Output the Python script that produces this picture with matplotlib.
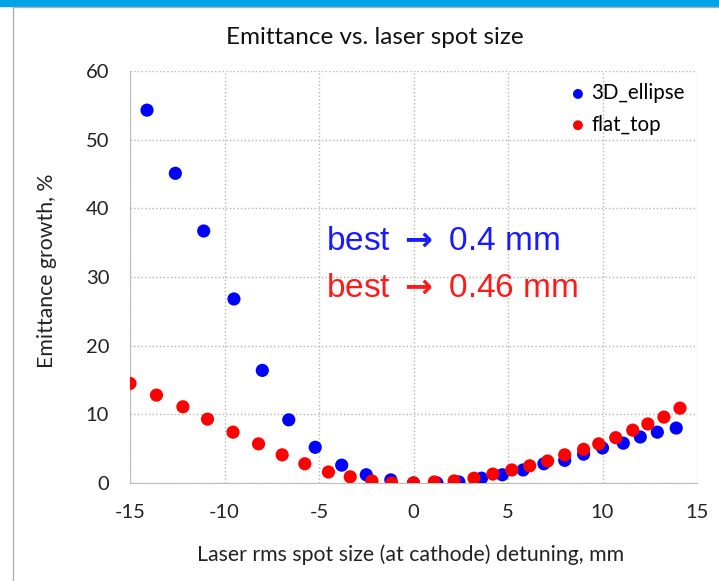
import matplotlib.pyplot as plt
from matplotlib.patches import Rectangle
from matplotlib.lines import Line2D

# emittance growth vs laser spot size detuning
ell_x = [-14.1, -12.6, -11.1, -9.5, -8.0, -6.6, -5.2, -3.8, -2.5, -1.2, 0.0,
         1.24, 2.4, 3.6, 4.7, 5.8, 6.9, 8.0, 9.0, 10.0, 11.1, 12.0, 12.9, 13.9]
ell_y = [54.3, 45.1, 36.7, 26.8, 16.4, 9.2, 5.2, 2.6, 1.2, 0.45, 0.0,
         0.0, 0.15, 0.7, 1.2, 1.9, 2.8, 3.3, 4.2, 5.1, 5.8, 6.7, 7.4, 8.0]
flat_x = [-15.0, -13.6, -12.2, -10.9, -9.55, -8.2, -6.95, -5.75, -4.5, -3.35, -2.2, -1.15, 0.0,
          1.1, 2.15, 3.2, 4.2, 5.2, 6.15, 7.1, 8.0, 9.0, 9.8, 10.7, 11.6, 12.4, 13.25, 14.1]
flat_y = [14.5, 12.8, 11.1, 9.3, 7.4, 5.7, 4.1, 2.8, 1.6, 0.9, 0.3, 0.0, 0.0,
          0.15, 0.3, 0.7, 1.3, 1.9, 2.5, 3.2, 4.1, 4.9, 5.7, 6.6, 7.7, 8.6, 9.6, 10.9]
xticks = [-15, -10, -5, 0, 5, 10, 15]
yticks = [0, 10, 20, 30, 40, 50, 60]

plt.rcParams['font.family'] = ['Lato', 'DejaVu Sans']
plt.rcParams['axes.unicode_minus'] = False
plt.rcParams['mathtext.fontset'] = 'dejavusans'

fig = plt.figure(figsize=(7.19, 5.81), dpi=100)
# slide frame
fig.patches.append(Rectangle((0, 1 - 6/581), 1, 6/581, transform=fig.transFigure,
                             color='#00a3e8', zorder=0))
fig.add_artist(Line2D([13/719, 13/719], [0, 1 - 7/581], transform=fig.transFigure,
                      color='#b0b0b0', lw=1))
fig.add_artist(Line2D([13/719, 1], [1 - 7/581, 1 - 7/581], transform=fig.transFigure,
                      color='#b0b0b0', lw=1))

ax = fig.add_axes([130/719, 1 - 483/581, 567/719, 412/581])
ax.scatter(ell_x, ell_y, s=90, color='#0000ff', edgecolors='none', zorder=3, label='3D_ellipse')
ax.scatter(flat_x, flat_y, s=90, color='#ff0000', edgecolors='none', zorder=4, label='flat_top')

ax.set_xlim(-15, 15)
ax.set_ylim(0, 60)
ax.set_xticks(xticks)
ax.set_yticks(yticks)
ax.grid(True, linestyle=':', color='#b5b5b5', lw=1)
ax.set_axisbelow(True)
for s in ['top', 'right']:
    ax.spines[s].set_visible(False)
for s in ['left', 'bottom']:
    ax.spines[s].set_color('#bdbdbd')
ax.tick_params(length=0, labelsize=14.5, colors='#222222')
ax.tick_params(axis='y', pad=15)
ax.tick_params(axis='x', pad=15)

fig.text(375/719, 1 - 37/581, 'Emittance vs. laser spot size', fontsize=17.5,
         ha='center', va='center', color='#111111')
ax.set_xlabel('Laser rms spot size (at cathode) detuning, mm', fontsize=15.3,
              color='#222222', va='center')
ax.xaxis.set_label_coords(0.494, -0.174)
ax.set_ylabel('Emittance growth, %', fontsize=15.3, color='#222222', va='center')
ax.yaxis.set_label_coords(-0.146, 0.515)

ax.legend(loc='upper right', bbox_to_anchor=(1.0, 1.0), frameon=False, fontsize=14.8,
          handlelength=1.0, handletextpad=0.15, markerscale=0.75,
          borderaxespad=0.2, labelspacing=0.55)

ax.text(-4.65, 33.9, 'best $\\mathbf{\\rightarrow}$ 0.4 mm', color='#1a1aff', fontsize=24,
        va='baseline', family=['Liberation Sans', 'DejaVu Sans'])
ax.text(-4.65, 27.1, 'best $\\mathbf{\\rightarrow}$ 0.46 mm', color='#ff1a1a', fontsize=24,
        va='baseline', family=['Liberation Sans', 'DejaVu Sans'])

fig.savefig('out.png', dpi=100)
